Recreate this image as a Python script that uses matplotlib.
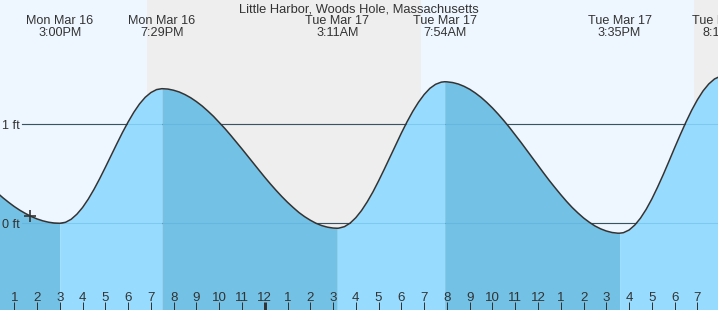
# Tide chart: Little Harbor, Woods Hole
import numpy as np
import matplotlib.pyplot as plt
import matplotlib.transforms as mtransforms

plt.rcParams['font.family'] = ['Liberation Sans', 'DejaVu Sans']

title = 'Little Harbor, Woods Hole, Massachusetts'

# hours after Mon Mar 16 12:00PM, tide height in ft
hours = [0, 0.25, 0.5, 0.75, 1, 1.25, 1.5, 1.75, 2, 2.25, 2.5, 2.75,
         3, 3.25, 3.5, 3.75, 4, 4.25, 4.5, 4.75, 5, 5.25, 5.5, 5.75, 6, 6.25, 6.5, 6.75, 7, 7.25, 7.483,
         7.75, 8, 8.25, 8.5, 8.75, 9, 9.25, 9.5, 9.75, 10, 10.25, 10.5, 10.75, 11, 11.25, 11.5, 11.75,
         12, 12.25, 12.5, 12.75, 13, 13.25, 13.5, 13.75, 14, 14.25, 14.5, 14.75, 15, 15.183,
         15.25, 15.5, 15.75, 16, 16.25, 16.5, 16.75, 17, 17.25, 17.5, 17.75, 18, 18.25, 18.5, 18.75,
         19, 19.25, 19.5, 19.75, 19.9,
         20, 20.25, 20.5, 20.75, 21, 21.25, 21.5, 21.75, 22, 22.25, 22.5, 22.75, 23, 23.25, 23.5, 23.75,
         24, 24.25, 24.5, 24.75, 25, 25.25, 25.5, 25.75, 26, 26.25, 26.5, 26.75, 27, 27.25, 27.5, 27.583,
         27.75, 28, 28.25, 28.5, 28.75, 29, 29.25, 29.5, 29.75, 30, 30.25, 30.5, 30.75, 31, 31.25, 31.5,
         31.75, 32, 32.17, 32.5]
heights = [0.36, 0.308, 0.258, 0.212, 0.169, 0.131, 0.098, 0.068, 0.044, 0.025, 0.011, 0.003,
           0.0, 0.010, 0.041, 0.092, 0.160, 0.245, 0.343, 0.451, 0.566, 0.684, 0.802, 0.917, 1.024, 1.122,
           1.206, 1.273, 1.321, 1.351, 1.36,
           1.356, 1.344, 1.326, 1.300, 1.268, 1.229, 1.185, 1.134, 1.080, 1.019, 0.957, 0.890, 0.821, 0.751,
           0.679, 0.607, 0.536, 0.465, 0.397, 0.332, 0.270, 0.212, 0.159, 0.109, 0.067, 0.031, 0.000,
           -0.023, -0.039, -0.048, -0.05,
           -0.049, -0.034, 0.002, 0.057, 0.129, 0.217, 0.317, 0.429, 0.547, 0.669, 0.793, 0.912, 1.026,
           1.131, 1.223, 1.301, 1.363, 1.404, 1.426, 1.43,
           1.429, 1.422, 1.407, 1.384, 1.354, 1.316, 1.272, 1.221, 1.165, 1.103, 1.037, 0.967, 0.893, 0.818,
           0.740, 0.662, 0.584, 0.507, 0.431, 0.359, 0.289, 0.222, 0.160, 0.105, 0.054, 0.011, -0.027,
           -0.056, -0.078, -0.093, -0.10, -0.10,
           -0.095, -0.068, -0.018, 0.052, 0.141, 0.246, 0.365, 0.492, 0.626, 0.763, 0.896, 1.024, 1.143,
           1.248, 1.338, 1.408, 1.458, 1.485, 1.49, 1.475]

# high / low tide events
tide_hours = [3.0, 7.483, 15.183, 19.9, 27.583, 32.17]
tide_days = ['Mon Mar 16', 'Mon Mar 16', 'Tue Mar 17', 'Tue Mar 17', 'Tue Mar 17', 'Tue Mar 17']
tide_times = ['3:00PM', '7:29PM', '3:11AM', '7:54AM', '3:35PM', '8:11PM']

# night periods (sunset -> sunrise)
night_start = [6.83, 30.85]
night_end = [18.87, 40.0]

# current time marker
now_hour = 1.69
now_height = 0.07

tick_hours = list(range(1, 32))
tick_labels = [str((h - 1) % 12 + 1) for h in tick_hours]
midnight = 12

hours = np.array(hours)
heights = np.array(heights)
assert len(hours) == len(heights)

day_bg = '#eef7ff'
night_bg = '#eeeeee'
rise_col = '#97dcff'
fall_col = '#73c2e6'
txt = '#333333'
H = 310.0

fig = plt.figure(figsize=(7.18, 3.10), dpi=100)
ax = fig.add_axes([0, 0, 1, 1])
ax.set_xlim(0.372, 31.904)
ax.set_ylim(-0.876, 2.256)
ax.axis('off')
ax.add_patch(plt.Rectangle((0, 0), 1, 1, transform=ax.transAxes, color=day_bg, zorder=0))

for a, b in zip(night_start, night_end):
    ax.axvspan(a, b, color=night_bg, lw=0, zorder=0.5)

bottom = -0.876
# grid lines (dark below the fill, faint on top of it)
for lvl in [0, 1]:
    ax.axhline(lvl, xmin=22 / 718, color=txt, lw=0.8, zorder=1)
    ax.axhline(lvl, xmin=22 / 718, color='#4a9fd0', lw=0.8, alpha=0.3, zorder=3)

# fill segments between tide events: rising light, falling dark
edges = [hours[0]] + tide_hours + [hours[-1]]
for i in range(len(edges) - 1):
    a, b = edges[i], edges[i + 1]
    m = (hours >= a) & (hours <= b)
    seg = heights[m]
    col = rise_col if seg[-1] > seg[0] else fall_col
    ax.fill_between(hours[m], seg, bottom, color=col, lw=0, zorder=2)

ax.plot(hours, heights, color=txt, lw=1.1, zorder=4)
ax.plot(now_hour, now_height, marker='+', color=txt, ms=9, mew=1.2, zorder=5)

# labels (positioned by baseline)
fig.text(0.5, 1 - 12 / H, title, ha='center', va='baseline', fontsize=9.3, color=txt)
top = mtransforms.blended_transform_factory(ax.transData, ax.transAxes)
for h, d, t in zip(tide_hours, tide_days, tide_times):
    ax.text(h, 1 - 24 / H, d, transform=top, ha='center', va='baseline',
            fontsize=9.1, color=txt, zorder=6)
    ax.text(h, 1 - 35.7 / H, t, transform=top, ha='center', va='baseline',
            fontsize=9.1, color=txt, zorder=6)

ax.text(2 / 718, 1 - 129 / H, '1 ft', transform=ax.transAxes, ha='left', va='baseline',
        fontsize=9.1, color=txt)
ax.text(2 / 718, 1 - 228 / H, '0 ft', transform=ax.transAxes, ha='left', va='baseline',
        fontsize=9.1, color=txt)

for h, lab in zip(tick_hours, tick_labels):
    lw = 3 if h == midnight else 1
    ax.plot([h, h], [0, 8 / H], transform=top, color=txt, lw=lw * 0.72, zorder=6,
            solid_capstyle='butt')
    ax.text(h, 1 - 300.7 / H, lab, transform=top, ha='center', va='baseline',
            fontsize=9.6, color=txt, zorder=6,
            family=['Liberation Sans Narrow', 'Liberation Sans', 'DejaVu Sans'])

fig.savefig('out.png', dpi=100)
